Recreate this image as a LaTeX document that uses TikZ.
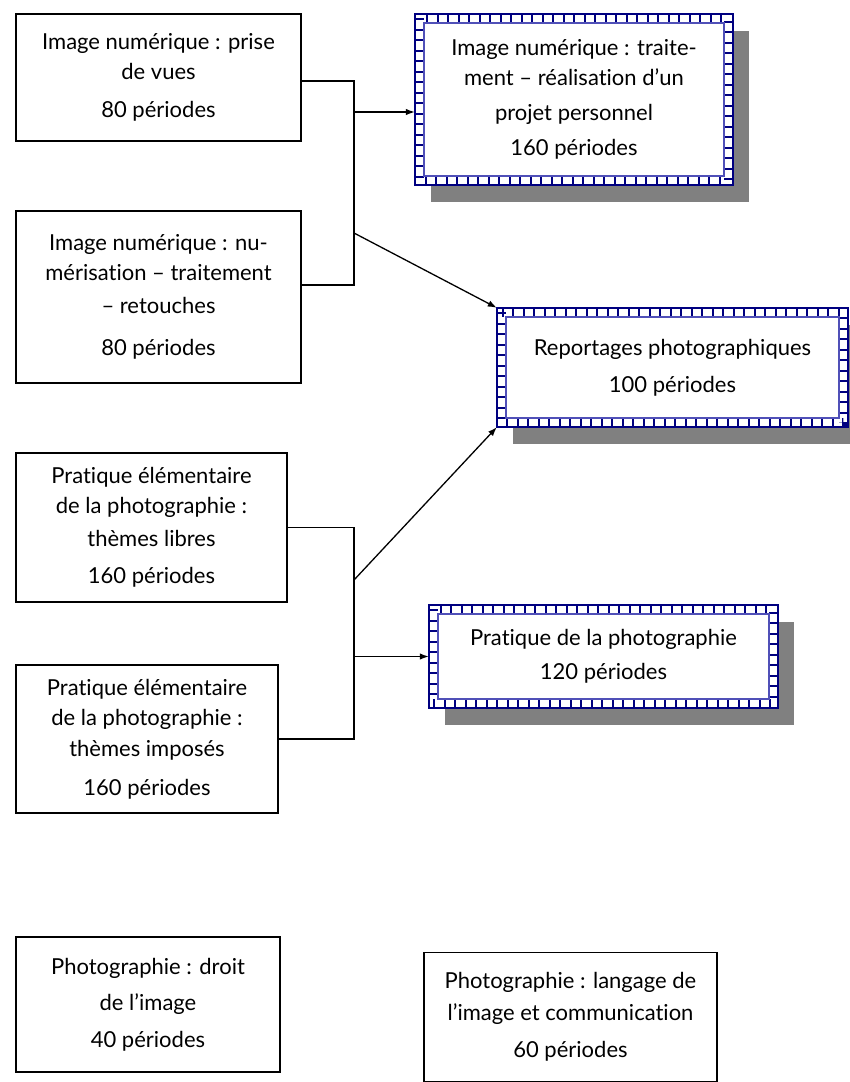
\documentclass[tikz,border=0pt]{standalone}
\usepackage{fontspec}
\setmainfont{Lato}[Ligatures={NoCommon,NoRare,NoContextual}]
\usetikzlibrary{arrows.meta,backgrounds,calc}
\definecolor{navyb}{HTML}{000080}
\definecolor{lightb}{HTML}{5050B8}
\definecolor{shadowg}{HTML}{808080}
\tikzset{
  plainbox/.style={draw=black, line width=1.5pt, fill=white, inner sep=0pt, align=center,
    font=\fontsize{22}{30}\selectfont},
  fancybox/.style={fill=white, inner sep=0pt, align=center,
    font=\fontsize{22}{30}\selectfont},
  conn/.style={draw=black, line width=1.3pt},
  arr/.style={conn, -{Latex[length=9pt,width=6.5pt]}},
}
\newcommand{\fancyframe}[1]{%
  \begin{scope}[on background layer]
    \fill[shadowg] ([shift={(16,17)}]#1.north west) rectangle ([shift={(16,17)}]#1.south east);
  \end{scope}
  \draw[navyb, line width=9pt, dash pattern=on 2pt off 8.5pt]
    ([shift={(4.5,4.5)}]#1.north west) rectangle ([shift={(-4.5,-4.5)}]#1.south east);
  \draw[navyb, line width=1.8pt] ([shift={(0.5,0.5)}]#1.north west) rectangle ([shift={(-0.5,-0.5)}]#1.south east);
  \draw[lightb, line width=1.6pt] ([shift={(9,9)}]#1.north west) rectangle ([shift={(-9,-9)}]#1.south east);
}
\begin{document}
\begin{tikzpicture}[x=1pt,y=-1pt]
\useasboundingbox (0,0) rectangle (850,1082);
\begin{scope}[on background layer]
  \fill[white] (0,0) rectangle (850,1082);
\end{scope}

% plain boxes
\node[plainbox, minimum width=285pt, minimum height=127pt] (A) at (158.5,77.5)
  {Image numérique : prise\\ de vues\\[8pt] 80 périodes};
\node[plainbox, minimum width=285pt, minimum height=172pt] (B) at (158.5,297)
  {Image numérique : nu-\\ mérisation – traitement\\[3pt] – retouches\\[12pt] 80 périodes};
\node[plainbox, minimum width=271pt, minimum height=149pt] (F) at (151.5,527.5)
  {Pratique élémentaire\\ de la photographie :\\[3pt] thèmes libres\\[7pt] 160 périodes};
\node[plainbox, minimum width=262pt, minimum height=148pt] (G) at (147,739)
  {Pratique élémentaire\\ de la photographie :\\[1pt] thèmes imposés\\[9pt] 160 périodes};
\node[plainbox, minimum width=264pt, minimum height=135pt] (H) at (148,1004.5)
  {Photographie : droit\\[6pt] de l’image\\[7pt] 40 périodes};
\node[plainbox, minimum width=293pt, minimum height=129pt] (I) at (570.5,1017)
  {Photographie : langage de\\[2pt] l’image et communication\\[7pt] 60 périodes};

% fancy boxes
\node[fancybox, minimum width=318pt, minimum height=171pt] (C) at (574,99.5)
  {Image numérique : traite-\\ ment – réalisation d’un\\[5pt] projet personnel\\[5pt] 160 périodes};
\node[fancybox, minimum width=351pt, minimum height=119pt] (D) at (672.5,367.5)
  {Reportages photographiques\\[7pt] 100 périodes};
\node[fancybox, minimum width=349pt, minimum height=103pt] (E) at (603.5,656.5)
  {Pratique de la photographie\\[4pt] 120 périodes};
\fancyframe{C}
\fancyframe{D}
\fancyframe{E}

% connectors
\coordinate (bus) at (354,0);
\coordinate (a1) at ([yshift=-3.5pt]A.east);
\coordinate (b1) at ([yshift=12pt]B.east);
\draw[conn] (a1) -- (a1 -| bus) -- (b1 -| bus) -- (b1);
\coordinate (c1) at ([yshift=-12.5pt]C.west);
\draw[arr] (c1 -| bus) -- (c1);
\coordinate (s1) at (354,233);
\draw[arr] (s1) -- (D.north west);

\draw[conn] (F.east) -- (F.east -| bus) -- (G.east -| bus) -- (G.east);
\draw[arr] (E.west -| bus) -- (E.west);
\coordinate (s2) at (354,580);
\draw[arr] (s2) -- (D.south west);
\end{tikzpicture}
\end{document}
